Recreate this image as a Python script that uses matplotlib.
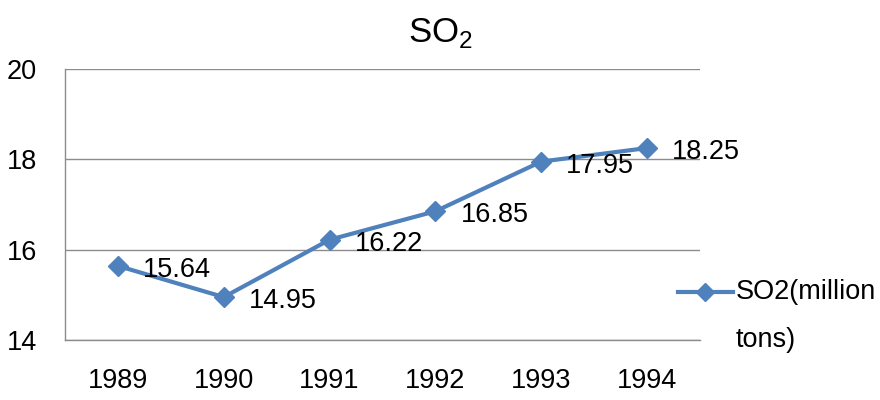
import matplotlib.pyplot as plt
from matplotlib.lines import Line2D

plt.rcParams['font.family'] = ['Liberation Sans', 'DejaVu Sans']
plt.rcParams['mathtext.fontset'] = 'custom'
plt.rcParams['mathtext.rm'] = 'Liberation Sans'

years = ['1989', '1990', '1991', '1992', '1993', '1994']
so2 = [15.64, 14.95, 16.22, 16.85, 17.95, 18.25]
series_name = 'SO2(million'
series_name_2 = 'tons)'

LINE_COLOR = '#4F81BD'
GRID_COLOR = '#8C8C8C'
FS = 19.5

fig = plt.figure(figsize=(8.8, 4), dpi=100)
ax = fig.add_axes([65 / 880, 60 / 400, 635 / 880, 271 / 400])

x = list(range(len(years)))
ax.plot(x, so2, color=LINE_COLOR, linewidth=3, marker='D', markersize=10,
        zorder=3)

for xi, v in zip(x, so2):
    ax.annotate(f'{v:.2f}', (xi, v), xytext=(18, -3), textcoords='offset points',
                ha='left', va='center', fontsize=FS)

ax.set_xlim(-0.5, len(years) - 0.5)
ax.set_ylim(14, 20)
ax.set_yticks([14, 16, 18, 20])
ax.set_xticks(x)
ax.set_xticklabels(years)
ax.tick_params(axis='both', length=0, labelsize=FS)
ax.tick_params(axis='x', pad=20)
ax.tick_params(axis='y', pad=20)

ax.grid(axis='y', color=GRID_COLOR, linewidth=1)
ax.set_axisbelow(True)
for side in ['top', 'right']:
    ax.spines[side].set_visible(False)
for side in ['left', 'bottom']:
    ax.spines[side].set_color(GRID_COLOR)
    ax.spines[side].set_linewidth(1)

fig.text(440 / 880, 1 - 33 / 400, r'SO$_\mathrm{2}$', ha='center', va='center',
         fontsize=25)

# legend, drawn by hand so the marker lines up with the first text line
ly = 1 - 292 / 400
fig.add_artist(Line2D([678 / 880, 733 / 880], [ly, ly], color=LINE_COLOR,
                      linewidth=3, transform=fig.transFigure))
fig.add_artist(Line2D([705 / 880], [ly], color=LINE_COLOR, marker='D',
                      markersize=9, transform=fig.transFigure))
fig.text(736 / 880, ly, series_name, ha='left', va='center', fontsize=FS)
fig.text(736 / 880, 1 - 340 / 400, series_name_2, ha='left', va='center', fontsize=FS)

fig.savefig('out.png', dpi=100)
